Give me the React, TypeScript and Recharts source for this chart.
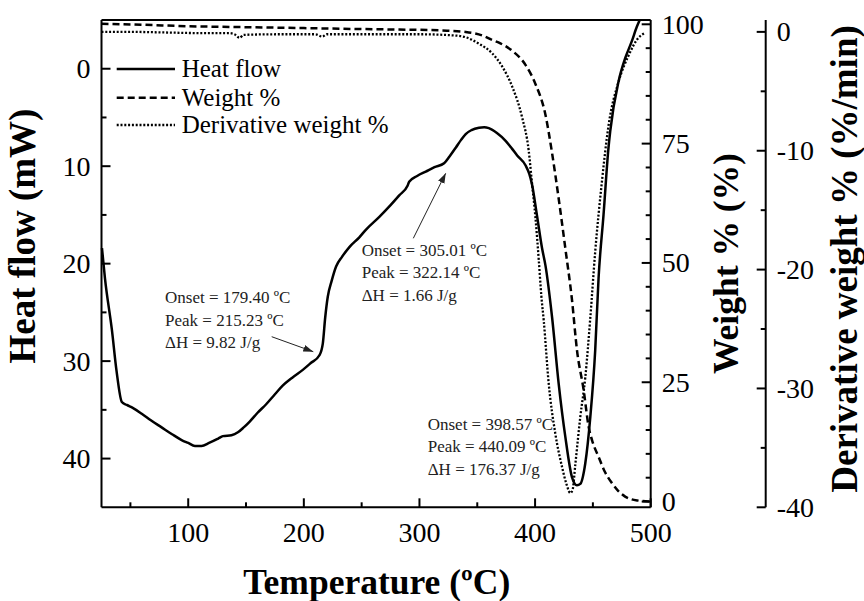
import React from 'react';
import {
  LineChart, Line, XAxis, YAxis, ReferenceLine, Customized,
} from 'recharts';

// heat flow (mW) vs temperature
const heatTemp = [25.4, 28, 34, 38, 42.6, 46.9, 52, 59.8, 68, 77, 86, 94.3, 100, 105.8, 111.5, 118, 125.9, 130, 137.4, 143,
  148, 153.2, 160, 167.6, 175, 181.9, 190, 199.1, 206, 213.5, 216.4, 218.5, 220.7, 224, 227.9, 233, 239.4, 248, 253.8,
  265.3, 275, 282.5, 289.7, 291.1, 298, 305.5, 313, 321.3, 326, 331.4, 336, 340, 345, 351.5, 356, 360, 367, 374.5, 380,
  384.5, 391.7, 395, 397.4, 401.7, 406, 409, 414.7, 420.4, 426.2, 431.9, 436.2, 439.1, 443.4, 447.8, 452, 454.9, 459.2,
  463.5, 465, 472.2, 478, 483.6, 488, 490.5];
const heatFlow = [18.4, 21.5, 26.8, 31, 34.2, 34.5, 34.8, 35.4, 36.1, 36.8, 37.5, 38.1, 38.4, 38.7, 38.7, 38.4, 37.95, 37.7, 37.6, 37.3,
  36.8, 36.2, 35.3, 34.4, 33.4, 32.5, 31.7, 30.9, 30.2, 29.4, 28.2, 25.5, 23.4, 21.8, 20.3, 19.3, 18.3, 17.3, 16.5,
  15.2, 14.0, 13.0, 12.0, 11.6, 11.0, 10.55, 10.1, 9.7, 9.0, 8.1, 7.3, 6.7, 6.3, 6.05, 6.0, 6.1, 6.6, 7.4, 8.2,
  8.9, 9.9, 10.8, 11.9, 15.1, 18.4, 20.2, 25.5, 32.3, 37.8, 41.9, 42.75, 42.6, 40.5, 35.7, 28.9, 21.5, 15.0,
  8.1, 6.4, 1.3, -1.1, -2.8, -4.3, -5.0];

// weight %
const weightTemp = [25, 60, 100, 150, 200, 250, 282.5, 320, 340, 355, 362.9, 370, 380, 391.7, 400.3, 409, 414.7, 420.4,
  426.2, 431.9, 436.2, 442, 446.3, 450, 454.9, 460, 466.4, 472, 477.9, 483, 489.4, 500];
const weightPct = [100.1, 99.9, 99.6, 99.4, 99.2, 99.0, 98.9, 98.7, 98.4, 97.6, 96.7, 96.0, 94.5, 91.5, 87.5, 81.0, 73.0, 63.5,
  53.0, 42.3, 31.8, 23.4, 15.7, 12.3, 9.4, 6.4, 3.9, 2.2, 1.05, 0.5, 0.2, 0.0];

// derivative weight % (%/min)
const derivTemp = [25, 50, 80, 110, 135, 140, 144.5, 148, 180, 210, 216, 220, 260, 300, 330, 340, 351.5, 362.9, 371.5, 380.2,
  388.8, 394.5, 397.4, 400.3, 403.2, 405.4, 407.5, 411.8, 417.5, 423.3, 427, 430.5, 432.5, 434.8, 439.1, 443.4, 447.8,
  452, 457.8, 463.5, 472.2, 480.8, 489.4, 495];
const derivWt = [0.0, 0.0, -0.05, -0.1, -0.1, -0.2, -0.5, -0.25, -0.2, -0.2, -0.4, -0.2, -0.2, -0.2, -0.3, -0.45, -1.0, -1.8, -2.9, -4.6,
  -7.2, -10.0, -12.8, -15.6, -19.2, -22.2, -24.3, -29.6, -33.8, -36.6, -38.0, -38.8, -38.5, -36.4, -32.4, -29.1, -24.0,
  -18.5, -12.6, -7.9, -4.2, -2.0, -0.5, -0.1];

const xTicks = [50, 100, 150, 200, 250, 300, 350, 400, 450, 500];
const heatTicks = [0, 5, 10, 15, 20, 25, 30, 35, 40];
const weightTicks = [0, 5, 10, 15, 20, 25, 30, 35, 40, 45, 50, 55, 60, 65, 70, 75, 80, 85, 90, 95, 100];
const derivTicks = [-40, -35, -30, -25, -20, -15, -10, -5, 0];

const heatData = heatTemp.map((t, i) => ({ t, v: heatFlow[i] }));
const weightData = weightTemp.map((t, i) => ({ t, v: weightPct[i] }));
const derivData = derivTemp.map((t, i) => ({ t, v: derivWt[i] }));

const FONT = '"Liberation Serif", "Times New Roman", serif';

const makeTick = (side: string, step: number) => (props: any) => {
  const { x, y, payload } = props;
  const v = payload.value;
  const major = v % step === 0;
  const len = major ? 9 : 5;
  if (side === 'bottom') {
    return (
      <g>
        <line x1={x} y1={y} x2={x} y2={y - len} stroke="#000" strokeWidth={2} />
        {major && <text x={x} y={y + 34.5} textAnchor="middle" fontFamily={FONT} fontSize={28} fill="#000">{v}</text>}
      </g>
    );
  }
  const dir = side === 'left' ? 1 : -1;
  return (
    <g>
      <line x1={x} y1={y} x2={x + dir * len} y2={y} stroke="#000" strokeWidth={2} />
      {major && (
        <text x={x - dir * 11} y={y + 9.5} textAnchor={side === 'left' ? 'end' : 'start'}
          fontFamily={FONT} fontSize={28} fill="#000">{v}</text>
      )}
    </g>
  );
};

const Decor = () => (
  <g fontFamily={FONT}>
    <defs>
      <marker id="ah" markerWidth="10" markerHeight="7" refX="10" refY="3.5" orient="auto" markerUnits="userSpaceOnUse">
        <polygon points="0 0, 10 3.5, 0 7" fill="#222" />
      </marker>
    </defs>
    {/* legend */}
    <line x1={116.7} y1={69} x2={175} y2={69} stroke="#000" strokeWidth={2.5} />
    <line x1={116.7} y1={97.7} x2={175} y2={97.7} stroke="#000" strokeWidth={2.5} strokeDasharray="7 4" />
    <line x1={116.7} y1={125} x2={175} y2={125} stroke="#000" strokeWidth={2.3} strokeDasharray="2 1.8" />
    <text x={181.7} y={77} fontSize={25}>Heat flow</text>
    <text x={181.7} y={105.5} fontSize={25}>Weight %</text>
    <text x={181.7} y={133} fontSize={25}>Derivative weight %</text>

    {/* annotations */}
    <g fontSize={17} fill="#222">
      <text x={165} y={303.3}>Onset = 179.40 ºC</text>
      <text x={165} y={325.5}>Peak = 215.23 ºC</text>
      <text x={165} y={348}>ΔH = 9.82 J/g</text>
      <text x={361.7} y={256}>Onset = 305.01 ºC</text>
      <text x={361.7} y={278}>Peak = 322.14 ºC</text>
      <text x={361.7} y={300.5}>ΔH = 1.66 J/g</text>
      <text x={427.7} y={430}>Onset = 398.57 ºC</text>
      <text x={427.7} y={452}>Peak = 440.09 ºC</text>
      <text x={427.7} y={475}>ΔH = 176.37 J/g</text>
    </g>
    <line x1={271.7} y1={336.7} x2={313.3} y2={351.7} stroke="#222" strokeWidth={1} markerEnd="url(#ah)" />
    <line x1={413.3} y1={238.3} x2={445.7} y2={173.3} stroke="#222" strokeWidth={1} markerEnd="url(#ah)" />

    {/* axis titles */}
    <text x={376.7} y={593.5} textAnchor="middle" fontSize={35.5} fontWeight="bold">Temperature (ºC)</text>
    <text transform="translate(35,236) rotate(-90)" textAnchor="middle" fontSize={37} fontWeight="bold">Heat flow (mW)</text>
    <text transform="translate(738,263.5) rotate(-90)" textAnchor="middle" fontSize={35.5} fontWeight="bold">Weight % (%)</text>
    <text transform="translate(857,259) rotate(-90)" textAnchor="middle" fontSize={37} fontWeight="bold">Derivative weight % (%/min)</text>
  </g>
);

const axisLine = { stroke: '#000', strokeWidth: 2 };

const App = () => (
  <div style={{ position: 'absolute', left: 0, top: 0, background: '#fff' }}>
    <LineChart width={864} height={601} margin={{ top: 20, right: 0, left: 0, bottom: 0 }}>
      <XAxis xAxisId="t" type="number" dataKey="t" domain={[25, 500]} ticks={xTicks} interval={0}
        height={93.7} tickSize={0} tickMargin={0} tickLine={false} axisLine={axisLine} tick={makeTick('bottom', 100)} />
      <YAxis yAxisId="heat" type="number" domain={[-5, 45]} reversed ticks={heatTicks} interval={0}
        width={101.5} tickSize={0} tickMargin={0} tickLine={false} axisLine={axisLine} tick={makeTick('left', 10)} />
      <YAxis yAxisId="r1" orientation="right" type="number" domain={[-1.2, 100.9]} ticks={weightTicks} interval={0}
        width={115} tickSize={0} tickMargin={0} tickLine={false} axisLine={axisLine} tick={makeTick('right', 25)} />
      <YAxis yAxisId="r2" orientation="right" type="number" domain={[-40, 1]} ticks={derivTicks} interval={0}
        width={98.3} tickSize={0} tickMargin={0} tickLine={false} axisLine={axisLine} tick={makeTick('right', 10)} />
      <ReferenceLine xAxisId="t" yAxisId="heat" y={-5} stroke="#000" strokeWidth={2} />
      <Line xAxisId="t" yAxisId="heat" data={heatData} dataKey="v" type="monotone" stroke="#000" strokeWidth={2.5}
        dot={false} activeDot={false} isAnimationActive={false} />
      <Line xAxisId="t" yAxisId="r1" data={weightData} dataKey="v" type="monotone" stroke="#000" strokeWidth={2.5}
        strokeDasharray="7 4" dot={false} activeDot={false} isAnimationActive={false} />
      <Line xAxisId="t" yAxisId="r2" data={derivData} dataKey="v" type="monotone" stroke="#000" strokeWidth={2.3}
        strokeDasharray="2 1.8" dot={false} activeDot={false} isAnimationActive={false} />
      <Customized component={Decor} />
    </LineChart>
  </div>
);

export default App;
